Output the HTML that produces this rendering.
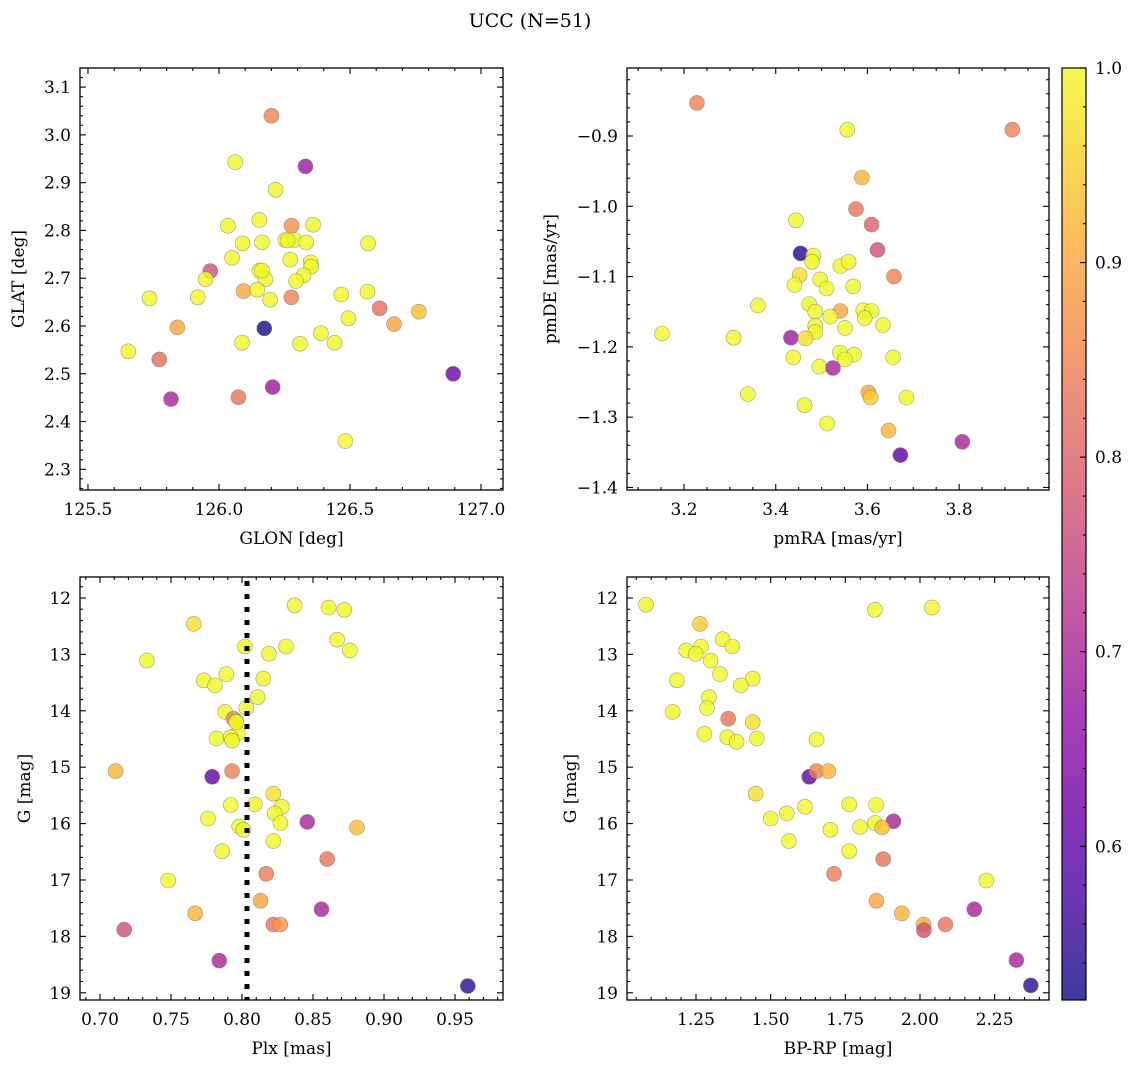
<!DOCTYPE html>
<html><head><meta charset="utf-8">
<style>
html,body{margin:0;padding:0;background:#fff;}
svg{display:block;}
svg text{font-family:"DejaVu Serif","Liberation Serif",serif;}
</style></head>
<body>
<svg id="fig" width="1136" height="1067" viewBox="0 0 1136 1067" xmlns="http://www.w3.org/2000/svg">
<text x="530" y="27" text-anchor="middle" font-size="19" font-family="DejaVu Serif, Liberation Serif, serif">UCC (N=51)</text>
</svg>
<script>
// ---- Panel 1: GLON vs GLAT
const glonX = [126.20,126.062,126.330,126.216,126.034,126.154,126.277,126.359,126.090,126.164,126.253,126.289,126.333,126.569,126.050,126.272,126.350,126.352,125.967,126.154,126.177,125.949,126.323,126.294,126.094,126.146,125.735,125.919,126.195,126.276,126.467,126.567,125.841,126.494,126.613,126.668,126.763,126.173,126.389,126.088,126.309,126.441,125.654,125.772,126.894,126.205,125.817,126.074,126.482,126.164,126.262];
const glatY = [3.040,2.943,2.934,2.885,2.810,2.822,2.810,2.812,2.773,2.775,2.780,2.780,2.775,2.773,2.743,2.739,2.733,2.724,2.715,2.716,2.698,2.698,2.706,2.694,2.673,2.676,2.658,2.660,2.655,2.660,2.666,2.672,2.597,2.616,2.637,2.604,2.630,2.595,2.585,2.565,2.563,2.565,2.547,2.530,2.500,2.472,2.447,2.451,2.359,2.716,2.779];
const glatC = [0.85,1,0.68,1,1,1,0.87,1,1,1,1,1,1,1,1,1,1,1,0.77,1,1,1,1,1,0.9,1,1,1,1,0.85,1,1,0.9,1,0.82,0.9,0.93,0.53,1,1,1,1,1,0.82,0.62,0.68,0.7,0.83,1,1,1];
// ---- Panel 2: pmRA vs pmDE
const pmraX = [3.228,3.916,3.556,3.588,3.575,3.609,3.444,3.622,3.454,3.482,3.479,3.541,3.559,3.658,3.452,3.497,3.441,3.569,3.511,3.361,3.473,3.541,3.486,3.591,3.609,3.519,3.594,3.634,3.486,3.551,3.152,3.486,3.308,3.433,3.465,3.540,3.571,3.438,3.551,3.656,3.495,3.525,3.339,3.602,3.607,3.685,3.463,3.512,3.646,3.807,3.672];
const pmdeY = [-0.853,-0.891,-0.891,-0.959,-1.004,-1.026,-1.020,-1.062,-1.067,-1.070,-1.079,-1.085,-1.079,-1.100,-1.098,-1.104,-1.112,-1.114,-1.117,-1.141,-1.139,-1.149,-1.150,-1.148,-1.149,-1.157,-1.159,-1.169,-1.170,-1.173,-1.181,-1.179,-1.187,-1.187,-1.188,-1.208,-1.211,-1.215,-1.218,-1.215,-1.228,-1.230,-1.267,-1.265,-1.272,-1.272,-1.283,-1.309,-1.319,-1.335,-1.354];
const pmC = [0.85,0.85,1,0.92,0.83,0.8,1,0.77,0.54,1,1,1,1,0.85,0.97,1,1,1,1,1,1,0.9,1,1,1,1,1,1,1,1,1,1,1,0.68,0.97,1,1,1,1,1,1,0.7,1,0.9,0.95,1,1,1,0.92,0.7,0.6];
// ---- Panel 3: Plx vs G
const plxX = [0.837,0.861,0.872,0.766,0.867,0.802,0.831,0.876,0.819,0.733,0.789,0.773,0.815,0.781,0.811,0.803,0.788,0.794,0.796,0.797,0.782,0.792,0.793,0.711,0.779,0.793,0.822,0.792,0.809,0.828,0.823,0.776,0.846,0.827,0.798,0.801,0.881,0.822,0.786,0.860,0.817,0.748,0.813,0.767,0.856,0.822,0.827,0.717,0.784,0.959,0.796];
const plxG = [12.13,12.17,12.21,12.46,12.74,12.86,12.86,12.93,12.99,13.11,13.35,13.46,13.43,13.55,13.76,13.95,14.02,14.14,14.19,14.40,14.49,14.47,14.53,15.07,15.17,15.07,15.47,15.67,15.66,15.70,15.82,15.91,15.97,15.99,16.05,16.11,16.07,16.31,16.49,16.63,16.89,17.01,17.37,17.59,17.52,17.79,17.79,17.88,18.43,18.88,14.20];
const plxC = [1,1,1,0.97,1,1,1,1,1,1,1,1,1,1,1,1,1,0.85,0.97,1,1,1,1,0.92,0.6,0.85,0.97,1,1,1,1,1,0.7,1,1,1,0.93,1,1,0.83,0.84,1,0.9,0.92,0.7,0.83,0.88,0.77,0.7,0.55,1];
const plxLine = [0.8035];
// ---- Panel 4: BP-RP vs G
const bprpX = [1.083,1.849,2.040,1.263,1.339,1.267,1.372,1.217,1.249,1.299,1.330,1.186,1.440,1.400,1.294,1.287,1.172,1.358,1.440,1.278,1.355,1.454,1.386,1.654,1.629,1.654,1.693,1.450,1.763,1.853,1.615,1.554,1.500,1.911,1.849,1.873,1.799,1.700,1.561,1.763,1.877,1.712,2.222,1.854,1.939,2.182,2.012,2.085,2.013,2.323,2.371];
const cmdG = [12.12,12.21,12.17,12.46,12.73,12.86,12.86,12.93,12.99,13.11,13.35,13.46,13.43,13.55,13.76,13.95,14.02,14.14,14.20,14.41,14.47,14.49,14.55,14.51,15.17,15.07,15.07,15.47,15.66,15.67,15.70,15.82,15.91,15.96,15.99,16.07,16.06,16.11,16.31,16.49,16.63,16.89,17.01,17.37,17.59,17.52,17.79,17.79,17.89,18.42,18.87];
const cmdC = [1,1,1,0.95,1,1,1,1,1,1,1,1,1,1,1,1,1,0.83,0.97,1,1,1,1,1,0.6,0.85,0.92,0.97,1,1,1,1,1,0.7,1,0.93,1,1,1,1,0.83,0.84,1,0.9,0.92,0.7,0.9,0.83,0.77,0.7,0.55];
// ---- ticks
const p1XTicks = [125.5,126.0,126.5,127.0];
const p1YTicks = [2.3,2.4,2.5,2.6,2.7,2.8,2.9,3.0,3.1];
const p2XTicks = [3.2,3.4,3.6,3.8];
const p2YTicks = [-1.4,-1.3,-1.2,-1.1,-1.0,-0.9];
const p3XTicks = [0.70,0.75,0.80,0.85,0.90,0.95];
const gTicks = [12,13,14,15,16,17,18,19];
const p4XTicks = [1.25,1.50,1.75,2.00,2.25];
const cbTicks = [0.6,0.7,0.8,0.9,1.0];
const cMin = 0.521, cMax = 1.0;

const NS = "http://www.w3.org/2000/svg";
const FONT = "DejaVu Serif, Liberation Serif, serif";
const svg = document.getElementById('fig');
function mk(tag, attrs, parent){ const e=document.createElementNS(NS,tag); for(const k in attrs) e.setAttribute(k,attrs[k]); (parent||svg).appendChild(e); return e; }

const plasma = ["#0d0887","#41049d","#6a00a8","#8f0da4","#b12a90","#cc4778","#e16462","#f2844b","#fca636","#fcce25","#f0f921"];
function hex(h){return [parseInt(h.slice(1,3),16),parseInt(h.slice(3,5),16),parseInt(h.slice(5,7),16)];}
function cmap(t){ t=Math.max(0,Math.min(1,t)); const f=t*10; const i=Math.min(9,Math.floor(f)); const u=f-i; const a=hex(plasma[i]), b=hex(plasma[i+1]);
  return "rgb("+a.map((v,k)=>Math.round(v+(b[k]-v)*u)).join(",")+")"; }
function colorOf(c){ return cmap((c-cMin)/(cMax-cMin)); }

function fmt(v,d){ const s=Math.abs(v).toFixed(d); return (v<0?"\u2212":"")+s; }

function panel(cfg){
  const {name,x0,x1,y0,y1,xmin,xmax,ymin,ymax,invert,xs,ys,cs,xt,yt,xd,yd,xminor,yminor,xlabel,ylabel} = cfg;
  const sx = v => x0 + (v-xmin)/(xmax-xmin)*(x1-x0);
  const sy = invert ? (v => y0 + (v-ymin)/(ymax-ymin)*(y1-y0)) : (v => y1 - (v-ymin)/(ymax-ymin)*(y1-y0));
  const g = mk('g',{});
  
  
  const pg = mk('g',{},g);
  
  
  for(let i=0;i<xs.length;i++){
    const c = mk('circle',{cx:sx(xs[i]).toFixed(1),cy:sy(ys[i]).toFixed(1),r:7.5,fill:colorOf(cs[i]),'fill-opacity':0.8,stroke:'#777','stroke-opacity':0.7,'stroke-width':0.6},pg);
    
    
  }
  if(cfg.vline){
    const l = mk('line',{x1:sx(cfg.vline[0]),x2:sx(cfg.vline[0]),y1:y0+4,y2:y1,stroke:'#000','stroke-width':5,'stroke-dasharray':'5 8'},g);
    
    
  }
  const fr = mk('rect',{x:x0,y:y0,width:x1-x0,height:y1-y0,fill:'none',stroke:'#000','stroke-width':1.3},g);
  
  
  const tk = mk('g',{stroke:'#000','stroke-width':1.1},g);
  const eps=1e-9;
  for(let v=Math.ceil(xmin/xminor-eps)*xminor; v<=xmax+eps; v+=xminor){
    const X=sx(v); const major = xt.some(t=>Math.abs(t-v)<xminor/3); const L= major?6:3;
    mk('line',{x1:X,x2:X,y1:y1,y2:y1-L},tk); mk('line',{x1:X,x2:X,y1:y0,y2:y0+L},tk);
  }
  for(let v=Math.ceil(ymin/yminor-eps)*yminor; v<=ymax+eps; v+=yminor){
    const Y=sy(v); const major = yt.some(t=>Math.abs(t-v)<yminor/3); const L= major?6:3;
    mk('line',{x1:x0,x2:x0+L,y1:Y,y2:Y},tk); mk('line',{x1:x1,x2:x1-L,y1:Y,y2:Y},tk);
  }
  xt.forEach(v=>{ const t=mk('text',{x:sx(v),y:y1+25,'text-anchor':'middle','font-size':17,'font-family':FONT},g); t.textContent=fmt(v,xd);
      });
  yt.forEach(v=>{ const t=mk('text',{x:x0-9,y:sy(v)+6,'text-anchor':'end','font-size':17,'font-family':FONT},g); t.textContent=fmt(v,yd);
      });
  const xl=mk('text',{x:(x0+x1)/2,y:y1+54,'text-anchor':'middle','font-size':17,'font-family':FONT},g); xl.textContent=xlabel;
   
  const ly=(y0+y1)/2, lx=cfg.ylx;
  const yl=mk('text',{x:lx,y:ly,'text-anchor':'middle','font-size':17,'font-family':FONT,transform:`rotate(-90 ${lx} ${ly})`},g); yl.textContent=ylabel;
   
}

panel({name:'glon-glat-panel',x0:80,x1:503,y0:68,y1:490,xmin:125.4695,xmax:127.084,ymin:2.2567,ymax:3.140,invert:false,
  xs:glonX,ys:glatY,cs:glatC,xt:p1XTicks,yt:p1YTicks,xd:1,yd:1,xminor:0.1,yminor:0.02,xlabel:'GLON [deg]',ylabel:'GLAT [deg]',ylx:24});
panel({name:'pm-panel',x0:627,x1:1049,y0:68,y1:490,xmin:3.0756,xmax:3.996,ymin:-1.4036,ymax:-0.8033,invert:false,
  xs:pmraX,ys:pmdeY,cs:pmC,xt:p2XTicks,yt:p2YTicks,xd:1,yd:1,xminor:0.05,yminor:0.02,xlabel:'pmRA [mas/yr]',ylabel:'pmDE [mas/yr]',ylx:556});
panel({name:'plx-g-panel',x0:80,x1:503,y0:577,y1:1000,xmin:0.6859,xmax:0.9838,ymin:11.628,ymax:19.128,invert:true,
  xs:plxX,ys:plxG,cs:plxC,xt:p3XTicks,yt:gTicks,xd:2,yd:0,xminor:0.01,yminor:0.2,xlabel:'Plx [mas]',ylabel:'G [mag]',ylx:30,vline:plxLine});
panel({name:'cmd-panel',x0:627,x1:1049,y0:577,y1:1000,xmin:1.019,xmax:2.432,ymin:11.628,ymax:19.128,invert:true,
  xs:bprpX,ys:cmdG,cs:cmdC,xt:p4XTicks,yt:gTicks,xd:2,yd:0,xminor:0.05,yminor:0.2,xlabel:'BP-RP [mag]',ylabel:'G [mag]',ylx:576});

(function(){
  const x0=1062,x1=1086,y0=68,y1=1000;
  const defs=mk('defs',{});
  const lg=mk('linearGradient',{id:'cbg',x1:0,y1:1,x2:0,y2:0},defs);
  for(let i=0;i<=40;i++){ const t=i/40; mk('stop',{offset:t,'stop-color':cmap(t)},lg); }
  const cb=mk('rect',{x:x0,y:y0,width:x1-x0,height:y1-y0,fill:'url(#cbg)','fill-opacity':0.8,stroke:'#000','stroke-width':1.2});
  
  
  const sy=v=>y1-(v-cMin)/(cMax-cMin)*(y1-y0);
  const tk=mk('g',{stroke:'#000','stroke-width':1.1});
  for(let v=0.54; v<=1.0001; v+=0.02){ const Y=sy(v); const major=cbTicks.some(t=>Math.abs(t-v)<0.005);
    mk('line',{x1:x1,x2:x1-(major?6:3),y1:Y,y2:Y},tk); }
  cbTicks.forEach(v=>{ const t=mk('text',{x:x1+9,y:sy(v)+6,'font-size':17,'font-family':FONT}); t.textContent=v.toFixed(1);
      });
})();
</script>
</body></html>
